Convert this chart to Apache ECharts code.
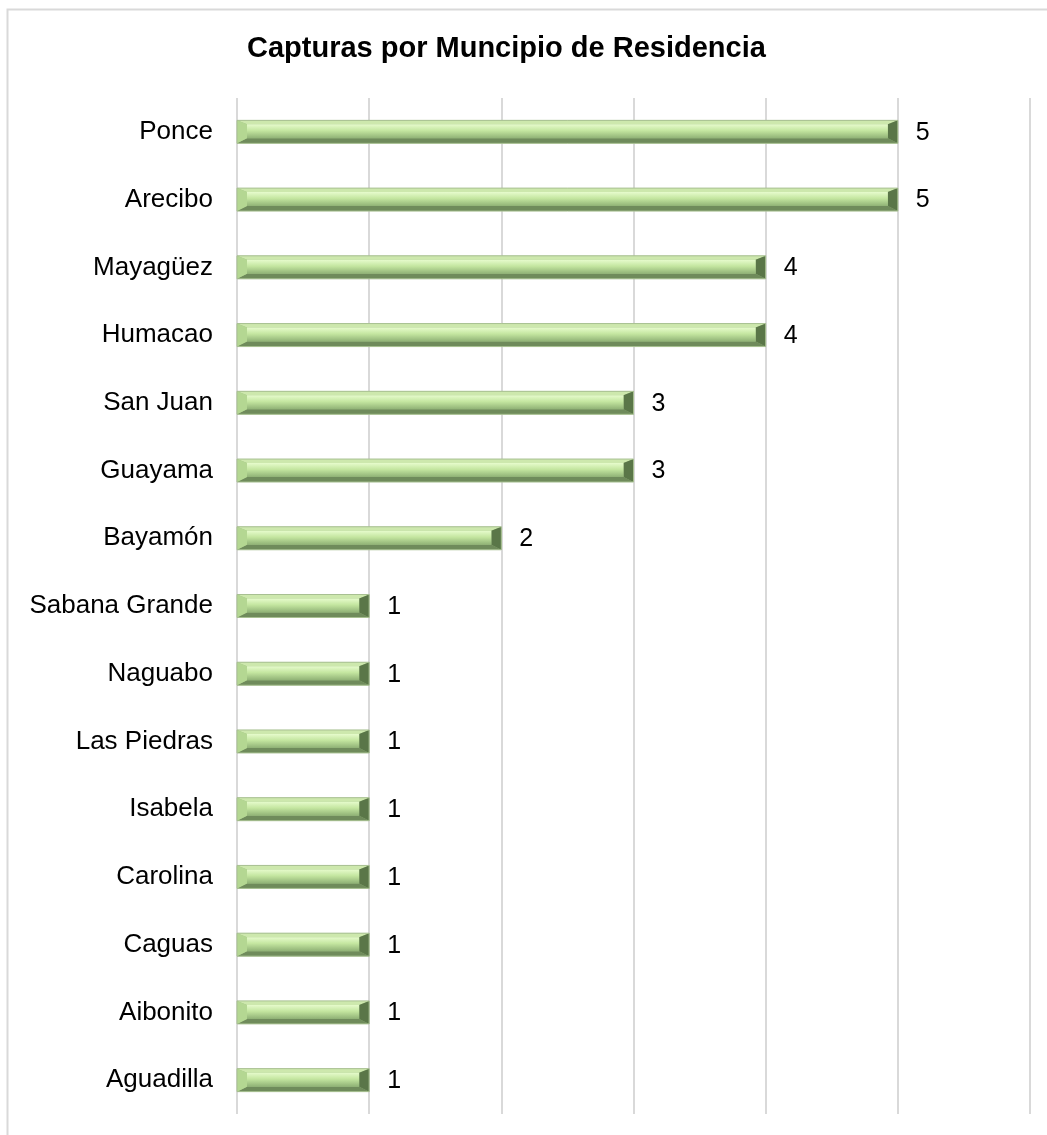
<!DOCTYPE html>
<html><head><meta charset="utf-8">
<script src="https://cdn.jsdelivr.net/npm/echarts@6/dist/echarts.min.js"></script>
<style>html,body{margin:0;padding:0;background:#fff}#c{width:1047px;height:1135px}</style>
</head><body><div id="c"></div>
<script>
const categories = ["Ponce","Arecibo","Mayagüez","Humacao","San Juan","Guayama","Bayamón","Sabana Grande","Naguabo","Las Piedras","Isabela","Carolina","Caguas","Aibonito","Aguadilla"];
const values = [5,5,4,4,3,3,2,1,1,1,1,1,1,1,1];
const titleText = "Capturas por Muncipio de Residencia";

const chart = echarts.init(document.getElementById('c'), null, {renderer:'canvas'});
const data = values.map((v,i)=>[v,i]);

function renderItem(params, api){
  const v = api.value(0), idx = api.value(1);
  const p0 = api.coord([0, idx]);
  const p1 = api.coord([v, idx]);
  const h = 23;
  const x0 = p0[0], x1 = p1[0], yT = p0[1]-h/2, yB = p0[1]+h/2;
  const bx = 10, byT = 4, byB = 5;
  const ix0 = x0+bx, ix1 = x1-bx, iyT = yT+byT, iyB = yB-byB;
  return {type:'group', children:[
    {type:'rect', shape:{x:x0,y:yT,width:x1-x0,height:h}, style:{fill:'#9fbf85'}},
    {type:'polygon', shape:{points:[[x0,yT],[x1,yT],[ix1,iyT],[ix0,iyT]]}, style:{fill:'#cde8ad'}},
    {type:'polygon', shape:{points:[[x0,yB],[x1,yB],[ix1,iyB],[ix0,iyB]]}, style:{fill:'#6f8b5b'}},
    {type:'polygon', shape:{points:[[x0,yT],[ix0,iyT],[ix0,iyB],[x0,yB]]}, style:{fill:'#b4d792'}},
    {type:'polygon', shape:{points:[[x1,yT],[ix1,iyT],[ix1,iyB],[x1,yB]]}, style:{fill:'#5a7648'}},
    {type:'rect', shape:{x:ix0,y:iyT,width:Math.max(0,ix1-ix0),height:iyB-iyT},
      style:{fill:new echarts.graphic.LinearGradient(0,0,0,1,[
        {offset:0,color:'#e6fbcc'},{offset:0.45,color:'#c4e6a0'},{offset:1,color:'#8fb175'}])}},
    {type:'rect', shape:{x:x0,y:yT,width:x1-x0,height:h}, style:{fill:'none',stroke:'#a8c092',lineWidth:1}},
    {type:'text', style:{text:String(v), x:x1+18, y:p0[1]+1, textAlign:'left', textVerticalAlign:'middle',
      font:'25px "Liberation Sans", Arial, sans-serif', fill:'#000'}}
  ]};
}

chart.setOption({
  animation:false,
  backgroundColor:'#fff',
  graphic:[{type:'rect', shape:{x:7.5,y:9.5,width:1100,height:1200}, style:{fill:'none',stroke:'#d9d9d9',lineWidth:2}, z:-10}],
  title:{text:titleText, left:242, top:29,
    textStyle:{fontFamily:'"Liberation Sans", Arial, sans-serif', fontWeight:'bold', fontSize:29, color:'#000'}},
  grid:{left:237, right:17, top:98, bottom:21},
  xAxis:{type:'value', min:0, max:6, interval:1,
    axisLine:{show:false}, axisTick:{show:false}, axisLabel:{show:false},
    splitLine:{show:true, lineStyle:{color:'#d9d9d9', width:2}}},
  yAxis:{type:'category', data:categories, inverse:true,
    axisLine:{show:false}, axisTick:{show:false},
    axisLabel:{margin:24, fontSize:26, color:'#000', fontFamily:'"Liberation Sans", Arial, sans-serif'}},
  series:[{type:'custom', renderItem:renderItem, encode:{x:0,y:1}, data:data, clip:false}]
});
</script></body></html>
